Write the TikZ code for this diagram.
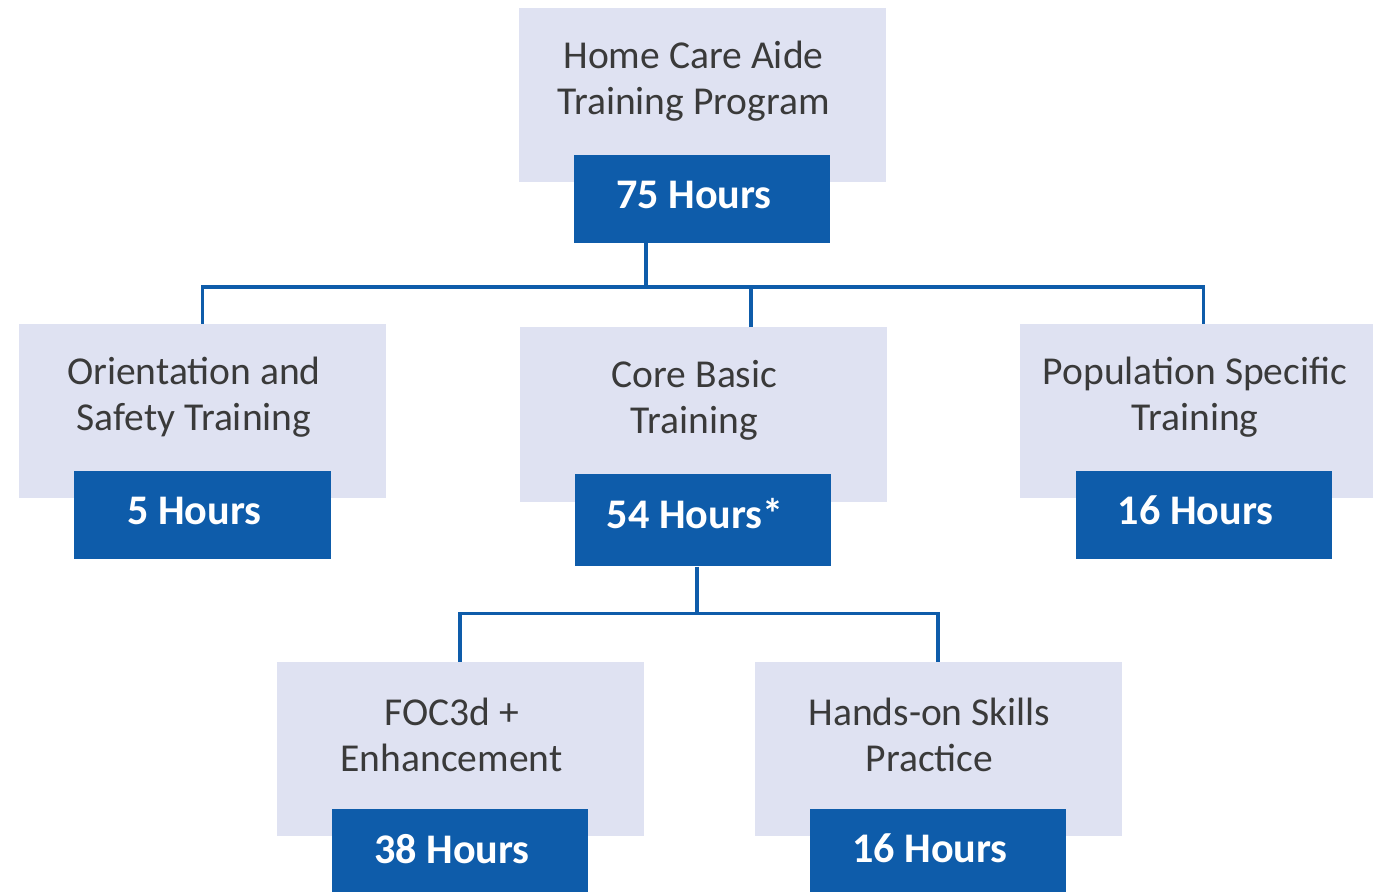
\documentclass[tikz,border=0pt]{standalone}
\usepackage{fontspec}
\setmainfont{Carlito}
\usetikzlibrary{positioning}
\definecolor{hcapale}{HTML}{DFE2F2}
\definecolor{hcablue}{HTML}{0E5CAA}
\definecolor{hcaink}{HTML}{3A3A3A}
\tikzset{
  areabox/.style={fill=hcapale,minimum width=73.4mm,minimum height=34.8mm,inner sep=0pt},
  hoursbox/.style={fill=hcablue,minimum width=51.2mm,minimum height=17.6mm,inner sep=0pt,
    below=-5.6mm of #1},
  areatext/.style={text=hcaink,align=center,inner sep=0pt,xshift=-1.7mm,yshift=2.8mm,
    font=\fontsize{22.5}{26.5}\selectfont},
  hourstext/.style={text=white,inner sep=0pt,xshift=-1.6mm,yshift=0.8mm,
    font=\fontsize{24}{28}\selectfont\bfseries},
  treeline/.style={draw=hcablue,line width=0.7mm},
}

\begin{document}
\begin{tikzpicture}[x=0.2mm,y=-0.2mm]
  \useasboundingbox (0,0) rectangle (1373,892);

  % program and its three parts
  \node[areabox] (hca) at (702,95) {};
  \node[areabox] (orient) at (202.5,411) {};
  \node[areabox] (core) at (703,414.5) {};
  \node[areabox] (pop) at (1203.5,411) {};
  % the two halves of core training
  \node[areabox] (foc) at (460,749) {};
  \node[areabox] (hands) at (938,749) {};

  \node[hoursbox=hca] (hca-h) {};
  \node[hoursbox=orient] (orient-h) {};
  \node[hoursbox=core,minimum height=18.4mm] (core-h) {};
  \node[hoursbox=pop] (pop-h) {};
  \node[hoursbox=foc] (foc-h) {};
  \node[hoursbox=hands] (hands-h) {};

  \node[areatext] (hca-t) at (hca) {Home Care Aide\\Training Program};
  \node[areatext] (orient-t) at (orient) {Orientation and\\Safety Training};
  \node[areatext] (core-t) at (core) {Core Basic\\Training};
  \node[areatext] (pop-t) at (pop) {Population Specific\\Training};
  \node[areatext] (foc-t) at (foc) {FOC3d +\\Enhancement};
  \node[areatext] (hands-t) at (hands) {Hands-on Skills\\Practice};

  \node[hourstext] (hca-n) at (hca-h) {75 Hours};
  \node[hourstext] (orient-n) at (orient-h) {5 Hours};
  \node[hourstext,yshift=0.6mm] (core-n) at (core-h) {54 Hours*};
  \node[hourstext] (pop-n) at (pop-h) {16 Hours};
  \node[hourstext] (foc-n) at (foc-h) {38 Hours};
  \node[hourstext] (hands-n) at (hands-h) {16 Hours};

  % tree connectors
  \draw[treeline] ([xshift=-11.2mm]hca-h.south) -- ++(0mm,-8.8mm) coordinate (bus1);
  \draw[treeline] (orient.north) |- (bus1) -| (pop.north);
  \coordinate (core-in) at ([xshift=9.6mm]core.north);
  \draw[treeline] (core-in) -- (core-in |- bus1);

  \draw[treeline] ([xshift=-1.2mm]core-h.south) -- ++(0mm,-9.4mm) coordinate (bus2);
  \draw[treeline] (foc.north) |- (bus2) -| (hands.north);
\end{tikzpicture}
\end{document}
